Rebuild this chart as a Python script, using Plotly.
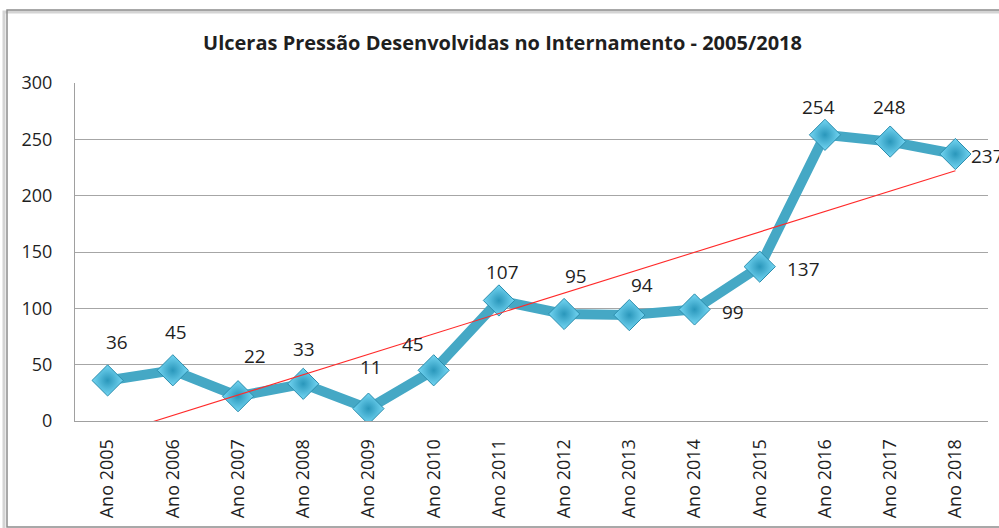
import numpy as np
import plotly.graph_objects as go

# data
anos = ["Ano 2005", "Ano 2006", "Ano 2007", "Ano 2008", "Ano 2009", "Ano 2010", "Ano 2011",
        "Ano 2012", "Ano 2013", "Ano 2014", "Ano 2015", "Ano 2016", "Ano 2017", "Ano 2018"]
ulceras = [36, 45, 22, 33, 11, 45, 107, 95, 94, 99, 137, 254, 248, 237]
y_ticks = [0, 50, 100, 150, 200, 250, 300]

# where each data label sits relative to its marker (px, like excel placed them)
label_dx = [9, 3, 17, 1, 3, -21, 4, 12, 13, 38, 44, -6, -1, 32]
label_dy = [38, 38, 40, 35, 42, 26, 28, 38, 30, -3, -2, 28, 35, -2]

W, H = 999, 528
L, R, T, B = 75, 11, 83, 107
FONT = "Open Sans"
TXT = "#1f1f1f"


def px_x(x):
    return (x - L) / (W - L - R)


def px_y(y):
    return (H - B - y) / (H - T - B)


# linear trend like excel's trendline
xi = np.arange(len(ulceras))
slope, intercept = np.polyfit(xi, ulceras, 1)
trend = slope * xi + intercept

fig = go.Figure()
fig.add_trace(go.Scatter(
    x=anos, y=ulceras, mode="lines+markers",
    line=dict(color="#45A8C5", width=10),
    marker=dict(symbol="diamond", size=24, color="#74D6F3",
                gradient=dict(type="radial", color="#2A97BB"),
                line=dict(color="#2B8DAD", width=1)),
    showlegend=False, hoverinfo="x+y",
))
fig.add_trace(go.Scatter(
    x=anos, y=trend, mode="lines",
    line=dict(color="#FF2A2A", width=1.1),
    showlegend=False, hoverinfo="skip",
))

for a, v, dx, dy in zip(anos, ulceras, label_dx, label_dy):
    fig.add_annotation(x=a, y=v, text=str(v), showarrow=False,
                       xshift=dx, yshift=dy,
                       font=dict(family=FONT, size=19, color=TXT))

# chart frame with a soft shadow on the left
fig.add_shape(type="rect", xref="paper", yref="paper", layer="below",
              x0=px_x(4), x1=px_x(1010), y0=px_y(530), y1=px_y(12),
              line=dict(color="#D4D4D4", width=3))
fig.add_shape(type="rect", xref="paper", yref="paper", layer="below",
              x0=px_x(7), x1=px_x(1010), y0=px_y(527), y1=px_y(10),
              line=dict(color="#8C8C8C", width=1.5))

fig.update_layout(
    width=W, height=H,
    margin=dict(l=L, r=R, t=T, b=B),
    paper_bgcolor="white", plot_bgcolor="white",
    font=dict(family=FONT, color=TXT),
    title=dict(text="<b>Ulceras Pressão Desenvolvidas no Internamento - 2005/2018</b>",
               x=0.503, xanchor="center", y=1 - 43 / H, yanchor="middle",
               font=dict(family=FONT, size=20, color=TXT)),
    xaxis=dict(tickangle=-90, tickfont=dict(size=18), showgrid=False,
               showline=True, linecolor="#A0A0A0", ticks="", ticklabelstandoff=10,
               range=[-0.5, len(anos) - 0.5]),
    yaxis=dict(range=[0, 300], tickvals=y_ticks, tickfont=dict(size=18),
               showgrid=True, gridcolor="#A6A6A6", gridwidth=1,
               zeroline=False, showline=True, linecolor="#A0A0A0",
               ticks="", ticklabelstandoff=18),
)

# drop the browser's default body margin so the figure sits at the top-left corner
fig.write_html("out.html", config={"displayModeBar": False},
               post_script="document.body.style.margin='0';document.body.style.overflow='hidden';")
